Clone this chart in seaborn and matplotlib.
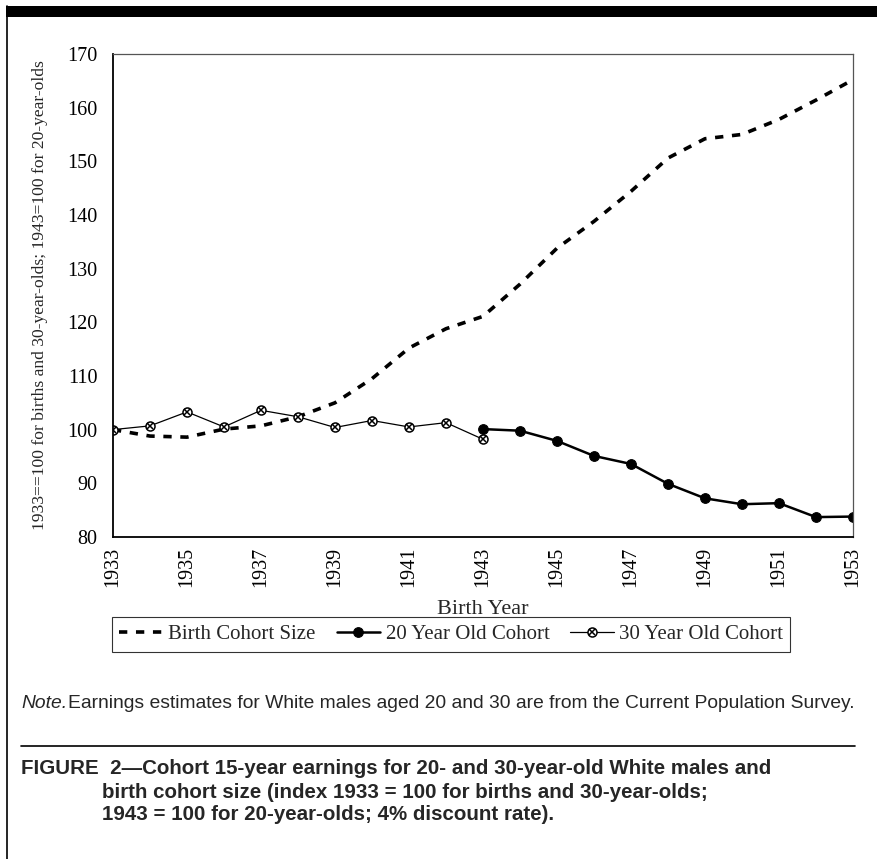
import pandas as pd
import matplotlib
matplotlib.use("Agg")
import matplotlib.pyplot as plt
from matplotlib.patches import Rectangle
from matplotlib.lines import Line2D
from matplotlib.legend_handler import HandlerTuple
import seaborn as sns

# values (index 1933=100 / 1943=100)
years = list(range(1933, 1954))
birth_cohort = [100.0, 98.8, 98.6, 100.1, 100.7, 102.4, 105.0, 109.5, 115.2, 118.8,
                121.1, 127.1, 133.8, 138.8, 144.4, 150.6, 154.2, 155.0, 157.8, 161.4, 165.2]
years_30 = list(range(1933, 1944))
cohort_30 = [100.0, 100.7, 103.3, 100.5, 103.6, 102.4, 100.4, 101.7, 100.5, 101.3, 98.2]
years_20 = list(range(1943, 1954))
cohort_20 = [100.1, 99.8, 97.9, 95.1, 93.6, 89.9, 87.2, 86.1, 86.3, 83.7, 83.8]

yticks = list(range(80, 171, 10))
xlabels = [str(y) if (y - 1933) % 2 == 0 else "" for y in years]

df_birth = pd.DataFrame({"year": years, "value": birth_cohort})
df_30 = pd.DataFrame({"year": years_30, "value": cohort_30})
df_20 = pd.DataFrame({"year": years_20, "value": cohort_20})

sns.set_style("white")
plt.rcParams["font.family"] = ["Liberation Serif", "DejaVu Serif"]

fig = plt.figure(figsize=(8.78, 8.59), dpi=100)
ax = fig.add_axes([0.1287, 0.3749, 0.8428, 0.5623])

sns.lineplot(df_birth, x="year", y="value", ax=ax, color="black", lw=2.6,
             linestyle=(0, (2.3, 2.4)), dash_capstyle="butt")
sns.lineplot(df_30, x="year", y="value", ax=ax, color="black", lw=0.9,
             marker="o", markersize=6.5, markerfacecolor="white",
             markeredgecolor="black", markeredgewidth=1.1)
sns.lineplot(df_30, x="year", y="value", ax=ax, color="black", linestyle="",
             marker="x", markersize=4.2, markeredgewidth=1.1,
             markeredgecolor="black")
sns.lineplot(df_20, x="year", y="value", ax=ax, color="black", lw=1.8,
             marker="o", markersize=7, markeredgecolor="black")

lines = ax.get_lines()
h_birth, h_30o, h_30x, h_20 = lines[0], lines[1], lines[2], lines[3]

ax.set_xlim(1933, 1953)
ax.set_ylim(80, 170)
ax.set_yticks(yticks)
ax.set_xticks(years)
ax.set_xticklabels(xlabels, rotation=90)
ax.tick_params(axis="both", direction="inout", length=10, width=1.0,
               colors="black", labelsize=14.5)
ax.tick_params(axis="y", pad=6)
ax.tick_params(axis="x", pad=2)

for s in ["left", "bottom"]:
    ax.spines[s].set_color("black")
    ax.spines[s].set_linewidth(1.3)
for s in ["top", "right"]:
    ax.spines[s].set_color("#555555")
    ax.spines[s].set_linewidth(0.9)

ax.set_xlabel("Birth Year", fontsize=16, labelpad=9)
ax.set_ylabel("1933==100 for births and 30-year-olds; 1943=100 for 20-year-olds",
              fontsize=12.6, labelpad=14)

leg = fig.legend([h_birth, h_20, (h_30o, h_30x)],
                 ["Birth Cohort Size", "20 Year Old Cohort", "30 Year Old Cohort"],
                 handler_map={tuple: HandlerTuple(ndivide=1)},
                 loc="center", bbox_to_anchor=(0.514, 0.2614), ncol=3,
                 fontsize=15, frameon=True, fancybox=False, edgecolor="black",
                 handlelength=2.1, handletextpad=0.25, columnspacing=1.0,
                 borderpad=0.35, borderaxespad=0)
leg.get_frame().set_linewidth(0.8)

# page framing from the journal layout
fig.add_artist(Rectangle((6 / 878, 1 - 17 / 859), 1 - 6 / 878, 11 / 859,
                         transform=fig.transFigure, color="black", lw=0))
fig.add_artist(Line2D([7 / 878, 7 / 878], [0, 1 - 6 / 859],
                      transform=fig.transFigure, color="black", lw=1.2))
fig.add_artist(Line2D([21 / 878, 855 / 878], [1 - 746 / 859, 1 - 746 / 859],
                      transform=fig.transFigure, color="black", lw=1.2))

sans = ["Liberation Sans", "DejaVu Sans"]
fig.text(21 / 878, 1 - 703 / 859, "Note.", family=sans, style="italic",
         fontsize=13.9, va="center", ha="left")
fig.text(68 / 878, 1 - 703 / 859,
         "Earnings estimates for White males aged 20 and 30 are from the Current Population Survey.",
         family=sans, fontsize=13.9, va="center", ha="left")

fig.text(21 / 878, 1 - 768 / 859, "FIGURE  2\u2014Cohort 15-year earnings for 20- and 30-year-old White males and",
         family=sans, weight="bold", fontsize=14.8, va="center", ha="left")
fig.text(102 / 878, 1 - 792 / 859, "birth cohort size (index 1933 = 100 for births and 30-year-olds;",
         family=sans, weight="bold", fontsize=14.8, va="center", ha="left")
fig.text(102 / 878, 1 - 815 / 859, "1943 = 100 for 20-year-olds; 4% discount rate).",
         family=sans, weight="bold", fontsize=14.8, va="center", ha="left")

fig.savefig("out.png", dpi=100)
